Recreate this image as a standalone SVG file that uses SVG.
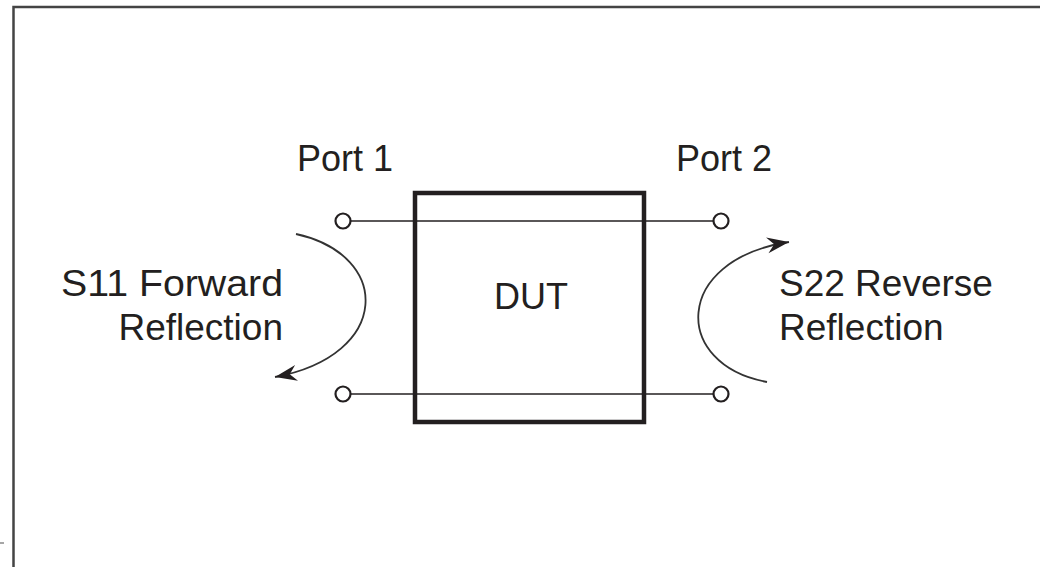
<svg xmlns="http://www.w3.org/2000/svg" width="1040" height="567" viewBox="0 0 1040 567">
<style>
.t{font-family:"Liberation Sans",Arial,sans-serif;font-size:36px;fill:#231f20}
.s{font-size:37px}
.w{stroke:#231f20;stroke-width:1.6;fill:none}
.port{stroke:#231f20;stroke-width:2.2;fill:#fff}
.arc{stroke:#333;stroke-width:1.8;fill:none}
</style>
<defs>
<marker id="ah" markerUnits="userSpaceOnUse" markerWidth="30" markerHeight="20" viewBox="-22 -10 30 20" refX="0" refY="0" orient="auto">
<path d="M0,0 L-22,-8 L-15,0 L-22,8 Z" fill="#231f20"/>
</marker>
</defs>
<rect width="1040" height="567" fill="#fff"/>
<g id="frame">
<path d="M1040,7 H13.5 V567" fill="none" stroke="#444" stroke-width="2.5"/>
<line x1="0" y1="543" x2="4" y2="543" stroke="#888" stroke-width="1.5"/>
</g>
<g id="connectors">
<line class="w" x1="350" y1="221" x2="714" y2="221"/>
<line class="w" x1="350" y1="394" x2="714" y2="394"/>
<path class="arc" d="M296,234 C392,255 392,355 275,377" marker-end="url(#ah)"/>
<path class="arc" d="M767,382 C672,365 672,260 789,242" marker-end="url(#ah)"/>
</g>
<g id="dut">
<rect x="415" y="193" width="229" height="229" fill="none" stroke="#231f20" stroke-width="4.5"/>
<text class="t" x="531" y="309" text-anchor="middle">DUT</text>
</g>
<g id="port1">
<circle class="port" cx="343" cy="221" r="7.5"/>
<circle class="port" cx="343" cy="394" r="7.5"/>
<text class="t" x="297" y="171">Port 1</text>
</g>
<g id="port2">
<circle class="port" cx="721" cy="221" r="7.5"/>
<circle class="port" cx="721" cy="394" r="7.5"/>
<text class="t" x="676" y="171">Port 2</text>
</g>
<g id="s11">
<text class="t s" x="283" y="296" text-anchor="end" textLength="222" lengthAdjust="spacingAndGlyphs">S11 Forward</text>
<text class="t s" x="283" y="340" text-anchor="end">Reflection</text>
</g>
<g id="s22">
<text class="t s" x="779" y="296">S22 Reverse</text>
<text class="t s" x="779" y="340">Reflection</text>
</g>
</svg>
